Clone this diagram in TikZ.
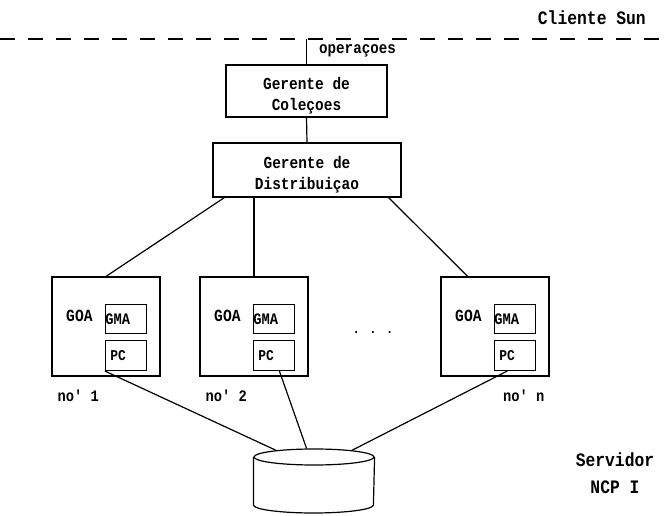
\documentclass[tikz,border=0pt]{standalone}
\usepackage{fontspec}
\newfontfamily\typefont[FakeStretch=0.86]{Liberation Mono}
\usetikzlibrary{calc,shapes.geometric}

\tikzset{
  mgr/.style={draw, line width=1.2pt, inner sep=0pt},
  mgrtxt/.style={align=center, inner sep=0pt,
    font=\typefont\bfseries\fontsize{16.8}{21}\selectfont},
  nodebox/.style={draw, line width=1.2pt, minimum width=108pt, minimum height=99pt, inner sep=0pt},
  subbox/.style={draw, line width=1.2pt, minimum height=29pt, inner sep=0pt,
    text width=41pt, align=left, font=\typefont\bfseries\fontsize{16}{18}\selectfont},
  pcbox/.style={subbox, minimum height=30pt, inner xsep=5pt, text width=31pt,
    font=\typefont\bfseries\fontsize{15}{17}\selectfont},
  lbl/.style={inner sep=0pt, font=\typefont\bfseries\fontsize{16}{18}\selectfont},
  side/.style={inner sep=0pt, align=center, font=\typefont\bfseries\fontsize{19}{27}\selectfont},
  link/.style={line width=1.2pt},
}

\begin{document}
\begin{tikzpicture}[x=1pt, y=1pt]
\useasboundingbox (0,0) rectangle (665,515);
% client / server boundary
\coordinate (cutL) at (0,476);
\coordinate (cutR) at (665,476);
\draw[line width=1.2pt, dash pattern=on 15pt off 13pt] (cutL) -- (cutR);
\node[side, anchor=east] (cliente) at (646,497) {Cliente Sun};

% managers (text sits low in the boxes)
\node[mgr, minimum width=161pt, minimum height=52pt] (colecoes) at (306.5,424) {};
\node[mgrtxt] (colecoesTxt) at ([yshift=-5pt]colecoes.center) {Gerente de\\Coleçoes};
\node[mgr, minimum width=188pt, minimum height=54pt] (distrib) at (307,345) {};
\node[mgrtxt] (distribTxt) at ([yshift=-5pt]distrib.center) {Gerente de\\Distribuiçao};
\draw[link] (colecoes.north |- cutL) -- (colecoes.north);
\node[lbl, anchor=west, font=\typefont\bfseries\fontsize{16.5}{18}\selectfont] (oper) at (319,464) {operaçoes};
\draw[link] (colecoes.south) -- (distrib.north);

% the nodes
\foreach \cx/\id in {106/1, 254/2, 495/n} {
  \node[nodebox] (no\id) at (\cx,188.5) {};
  \node[subbox] (gma\id) at ($(no\id.north west)+(74.5,-42.5)$) {GMA};
  \node[pcbox] (pc\id) at ($(no\id.north west)+(74.5,-79)$) {PC};
  \node[lbl, font=\typefont\bfseries\fontsize{17}{19}\selectfont] (goa\id) at ($(no\id.north west)+(28,-39)$) {GOA};
}
\node[lbl, anchor=west] (nome1) at ([xshift=6pt,yshift=-19pt]no1.south west) {no' 1};
\node[lbl, anchor=west] (nome2) at ([xshift=6pt,yshift=-19pt]no2.south west) {no' 2};
\node[lbl, anchor=east] (nomen) at ([xshift=-5pt,yshift=-19pt]non.south east) {no' n};
\node[lbl, anchor=base, font=\typefont\bfseries\fontsize{14}{16}\selectfont] (dots) at (373,181) {. . .};

\draw[link] ([xshift=12pt]distrib.south west) -- (no1.north);
\draw[link] (distrib.south -| no2.north) -- (no2.north);
\draw[link] ([xshift=-13pt]distrib.south east) -- ($(non.north west)!0.25!(non.north east)$);

% shared disk
\node[draw, ellipse, line width=1.2pt, minimum width=120pt, minimum height=16pt, inner sep=0pt] (disco) at (314,58) {};
\draw[link] (disco.west) -- ++(0,-48) arc[start angle=180, end angle=360, x radius=60pt, y radius=8pt] -- (disco.east);

\draw[link] (pc1.south west) -- (disco.170);
\draw[link] ($(pc2.south west)!0.63!(pc2.south east)$) -- (disco.131);
\draw[link] ($(pcn.south west)!0.32!(pcn.south east)$) -- (disco.10);

\node[side] (servidor) at (615,42) {Servidor\\NCP I};
\end{tikzpicture}
\end{document}
